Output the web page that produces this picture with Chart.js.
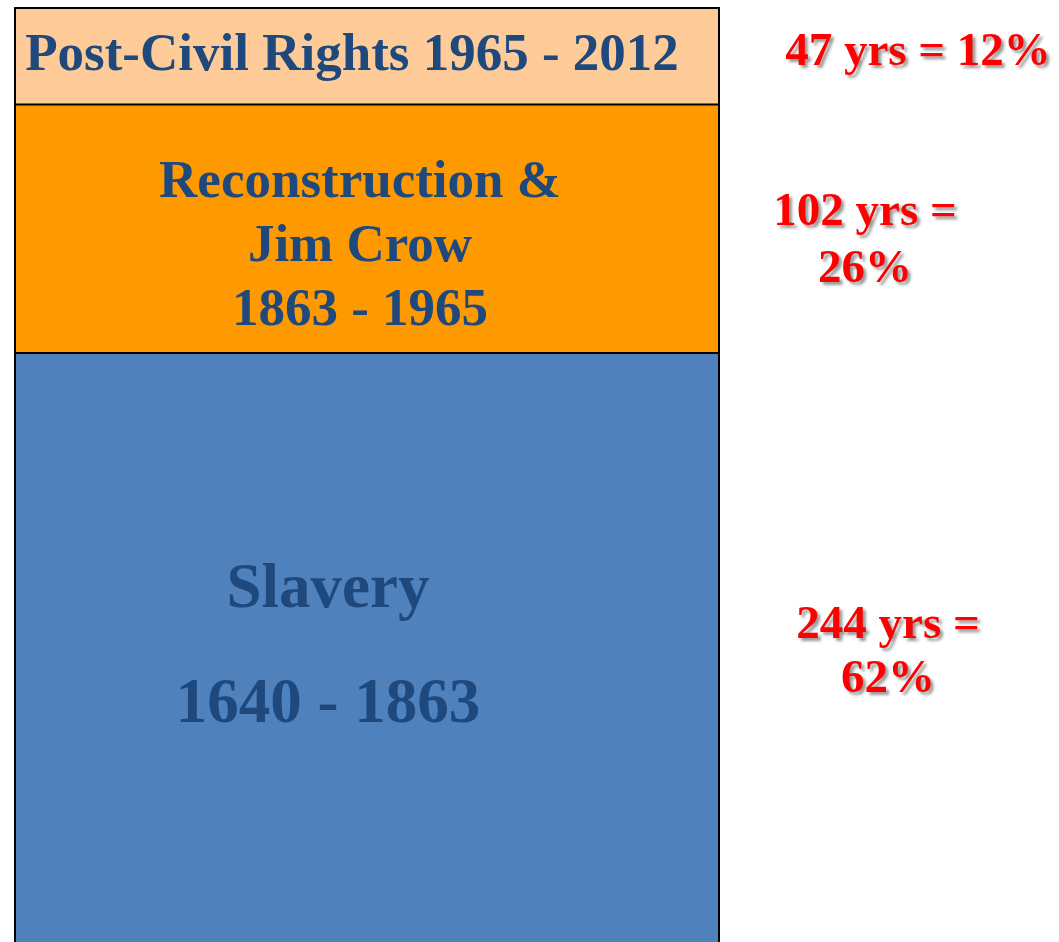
<!DOCTYPE html>
<html>
<head>
<meta charset="utf-8">
<script src="https://cdn.jsdelivr.net/npm/chart.js@4/dist/chart.umd.min.js"></script>
<style>
  html, body { margin: 0; padding: 0; background: #ffffff; }
  #wrap { width: 1059px; height: 942px; position: relative; }
</style>
</head>
<body>
<div id="wrap"><canvas id="c" width="1059" height="942"></canvas></div>
<script>
// ---- data ----
const categories = ['History'];
const periodNames = ['Slavery', 'Reconstruction & Jim Crow', 'Post-Civil Rights'];
// segment spans as drawn in the picture (years, bottom to top)
const drawnSpans = [244, 103, 40];
const periodColors = ['#4F81BD', '#FF9900', '#FFCC99'];
const periodTextLines = [
  ['Slavery', '1640 - 1863'],
  ['Reconstruction &', 'Jim Crow', '1863 - 1965'],
  ['Post-Civil Rights 1965 - 2012']
];
const durationYears = [244, 102, 47];
const durationPercents = ['62%', '26%', '12%'];

const durationTextLines = [
  [durationYears[0] + ' yrs =', durationPercents[0]],
  [durationYears[1] + ' yrs =', durationPercents[1]],
  [durationYears[2] + ' yrs = ' + durationPercents[2]]
];

// ---- label layout (relative to each segment's top edge) ----
const innerLayout = [
  { size: 63, dx: -39, dys: [254, 369] },
  { size: 53, dx: -7, dys: [92, 156, 220] },
  { size: 53, dx: -15, dys: [62] }
];
const outerLayout = [
  { x: 888, dys: [285, 339] },
  { x: 865, dys: [120, 177] },
  { x: 918, dys: [57] }
];

const labelPlugin = {
  id: 'segmentLabels',
  afterDatasetsDraw(chart) {
    const ctx = chart.ctx;
    chart.data.datasets.forEach((ds, i) => {
      const el = chart.getDatasetMeta(i).data[0];
      const top = Math.min(el.y, el.base);
      const bottom = Math.max(el.y, el.base);
      const left = el.x - el.width / 2;
      const right = el.x + el.width / 2;
      // outline
      ctx.save();
      ctx.strokeStyle = '#000000';
      ctx.lineWidth = 2;
      ctx.beginPath();
      ctx.moveTo(left, bottom + (i === 0 ? 5 : 0));
      ctx.lineTo(left, top);
      ctx.lineTo(right, top);
      ctx.lineTo(right, bottom + (i === 0 ? 5 : 0));
      ctx.stroke();
      ctx.restore();
      // inner text
      const L = innerLayout[i];
      ctx.save();
      ctx.fillStyle = '#1F497D';
      ctx.font = 'bold ' + L.size + 'px "Liberation Serif", "Times New Roman", serif';
      ctx.textAlign = 'center';
      ctx.textBaseline = 'alphabetic';
      periodTextLines[i].forEach((t, k) => {
        ctx.fillText(t, el.x + L.dx, top + L.dys[k]);
      });
      ctx.restore();
      // outer red text
      const O = outerLayout[i];
      ctx.save();
      ctx.fillStyle = '#FF0000';
      ctx.font = 'bold 47px "Liberation Serif", "Times New Roman", serif';
      ctx.textAlign = 'center';
      ctx.textBaseline = 'alphabetic';
      ctx.shadowColor = 'rgba(0,0,0,0.4)';
      ctx.shadowOffsetX = 3;
      ctx.shadowOffsetY = 3;
      ctx.shadowBlur = 3;
      durationTextLines[i].forEach((t, k) => {
        ctx.fillText(t, O.x, top + O.dys[k]);
      });
      ctx.restore();
    });
  }
};

const datasets = periodNames.map((name, i) => ({
  label: name,
  data: [drawnSpans[i]],
  backgroundColor: periodColors[i],
  borderWidth: 0,
  barPercentage: 1.0,
  categoryPercentage: 1.0
}));

new Chart(document.getElementById('c'), {
  type: 'bar',
  data: { labels: categories, datasets: datasets },
  options: {
    responsive: false,
    animation: false,
    layout: { padding: { left: 15, right: 340, top: 8, bottom: 0 } },
    plugins: { legend: { display: false }, tooltip: { enabled: false }, title: { display: false } },
    scales: {
      x: { stacked: true, display: false },
      y: { stacked: true, display: false, min: 0, max: drawnSpans.reduce((a, b) => a + b, 0) }
    }
  },
  plugins: [labelPlugin]
});
</script>
</body>
</html>
